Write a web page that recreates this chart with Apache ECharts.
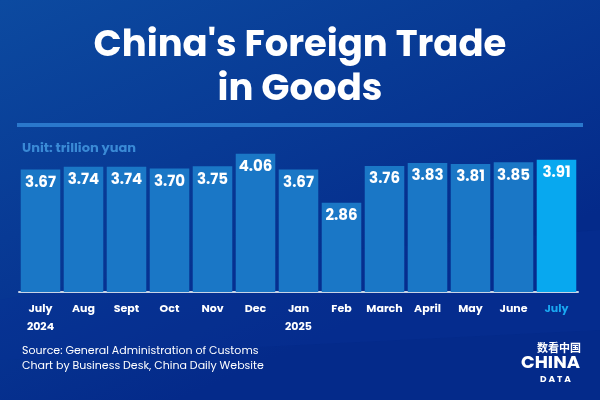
<!DOCTYPE html><html><head><meta charset="utf-8"><script src="https://cdn.jsdelivr.net/npm/echarts@6/dist/echarts.min.js"></script>
<style>html,body{margin:0;padding:0}#c{width:600px;height:400px}</style></head><body><div id="c"></div><script>
const categories=["July\n2024","Aug","Sept","Oct","Nov","Dec","Jan\n2025","Feb","March","April","May","June","July"];
const values=[3.67,3.74,3.74,3.70,3.75,4.06,3.67,2.86,3.76,3.83,3.81,3.85,3.91];
const chart=echarts.init(document.getElementById('c'));
const F='Poppins, "Open Sans", Lato, sans-serif';
chart.setOption({
backgroundColor:{type:'linear',x:0,y:0,x2:0.3,y2:1,colorStops:[{offset:0,color:'#0c4aa0'},{offset:1,color:'#042a8a'}]},
title:[{text:"China's Foreign Trade\nin Goods",left:'center',top:20,textStyle:{color:'#fff',fontSize:37,fontWeight:'bold',fontFamily:F,lineHeight:44}},
{text:'Unit: trillion yuan',left:17,top:137,textStyle:{color:'#3a8ad6',fontSize:13,fontWeight:'bold',fontFamily:F}},
{text:'Source: General Administration of Customs\nChart by Business Desk, China Daily Website',left:17,top:339,textStyle:{color:'#fff',fontSize:11,fontWeight:'normal',fontFamily:F,lineHeight:15}},
{text:'数看中国',left:532,top:337,textStyle:{color:'#fff',fontSize:11,fontWeight:'bold',fontFamily:'"Noto Sans CJK SC"'}},
{text:'CHINA',left:516,top:349,textStyle:{color:'#fff',fontSize:18,fontWeight:'bold',fontFamily:F}},
{text:'D A T A',left:535,top:370,textStyle:{color:'#fff',fontSize:9,fontWeight:'bold',fontFamily:F}}],
graphic:[{type:'rect',shape:{x:17,y:123,width:566,height:4},style:{fill:'#2a78cc'}},
{type:'polygon',z:-1,shape:{points:[[0,300],[150,270],[350,250],[600,230],[600,330],[0,360]]},style:{fill:'rgba(10,50,150,0.35)'}}],
grid:{left:19,right:22,top:148,bottom:108},
xAxis:{type:'category',data:categories,axisTick:{show:false},axisLine:{lineStyle:{color:'#c8d4e6',width:2}},
axisLabel:{color:'#fff',fontWeight:'bold',fontSize:11,fontFamily:F,margin:8,lineHeight:18,interval:0,
formatter:(v,i)=>i===12?'{h|'+v+'}':v,rich:{h:{color:'#19a8f2',fontWeight:'bold',fontSize:11,fontFamily:F}}}},
yAxis:{type:'value',min:0.67,max:4.2,show:false,splitLine:{show:false}},
series:[{type:'bar',data:values.map((v,i)=>({value:v,itemStyle:{color:i===12?'#08a8ef':'#1a77c6'}})),barCategoryGap:'8%',
label:{show:true,position:'insideTop',distance:6,color:'#fff',fontSize:15,fontWeight:'bold',fontFamily:F,formatter:p=>p.value.toFixed(2)}}]
});
</script></body></html>
